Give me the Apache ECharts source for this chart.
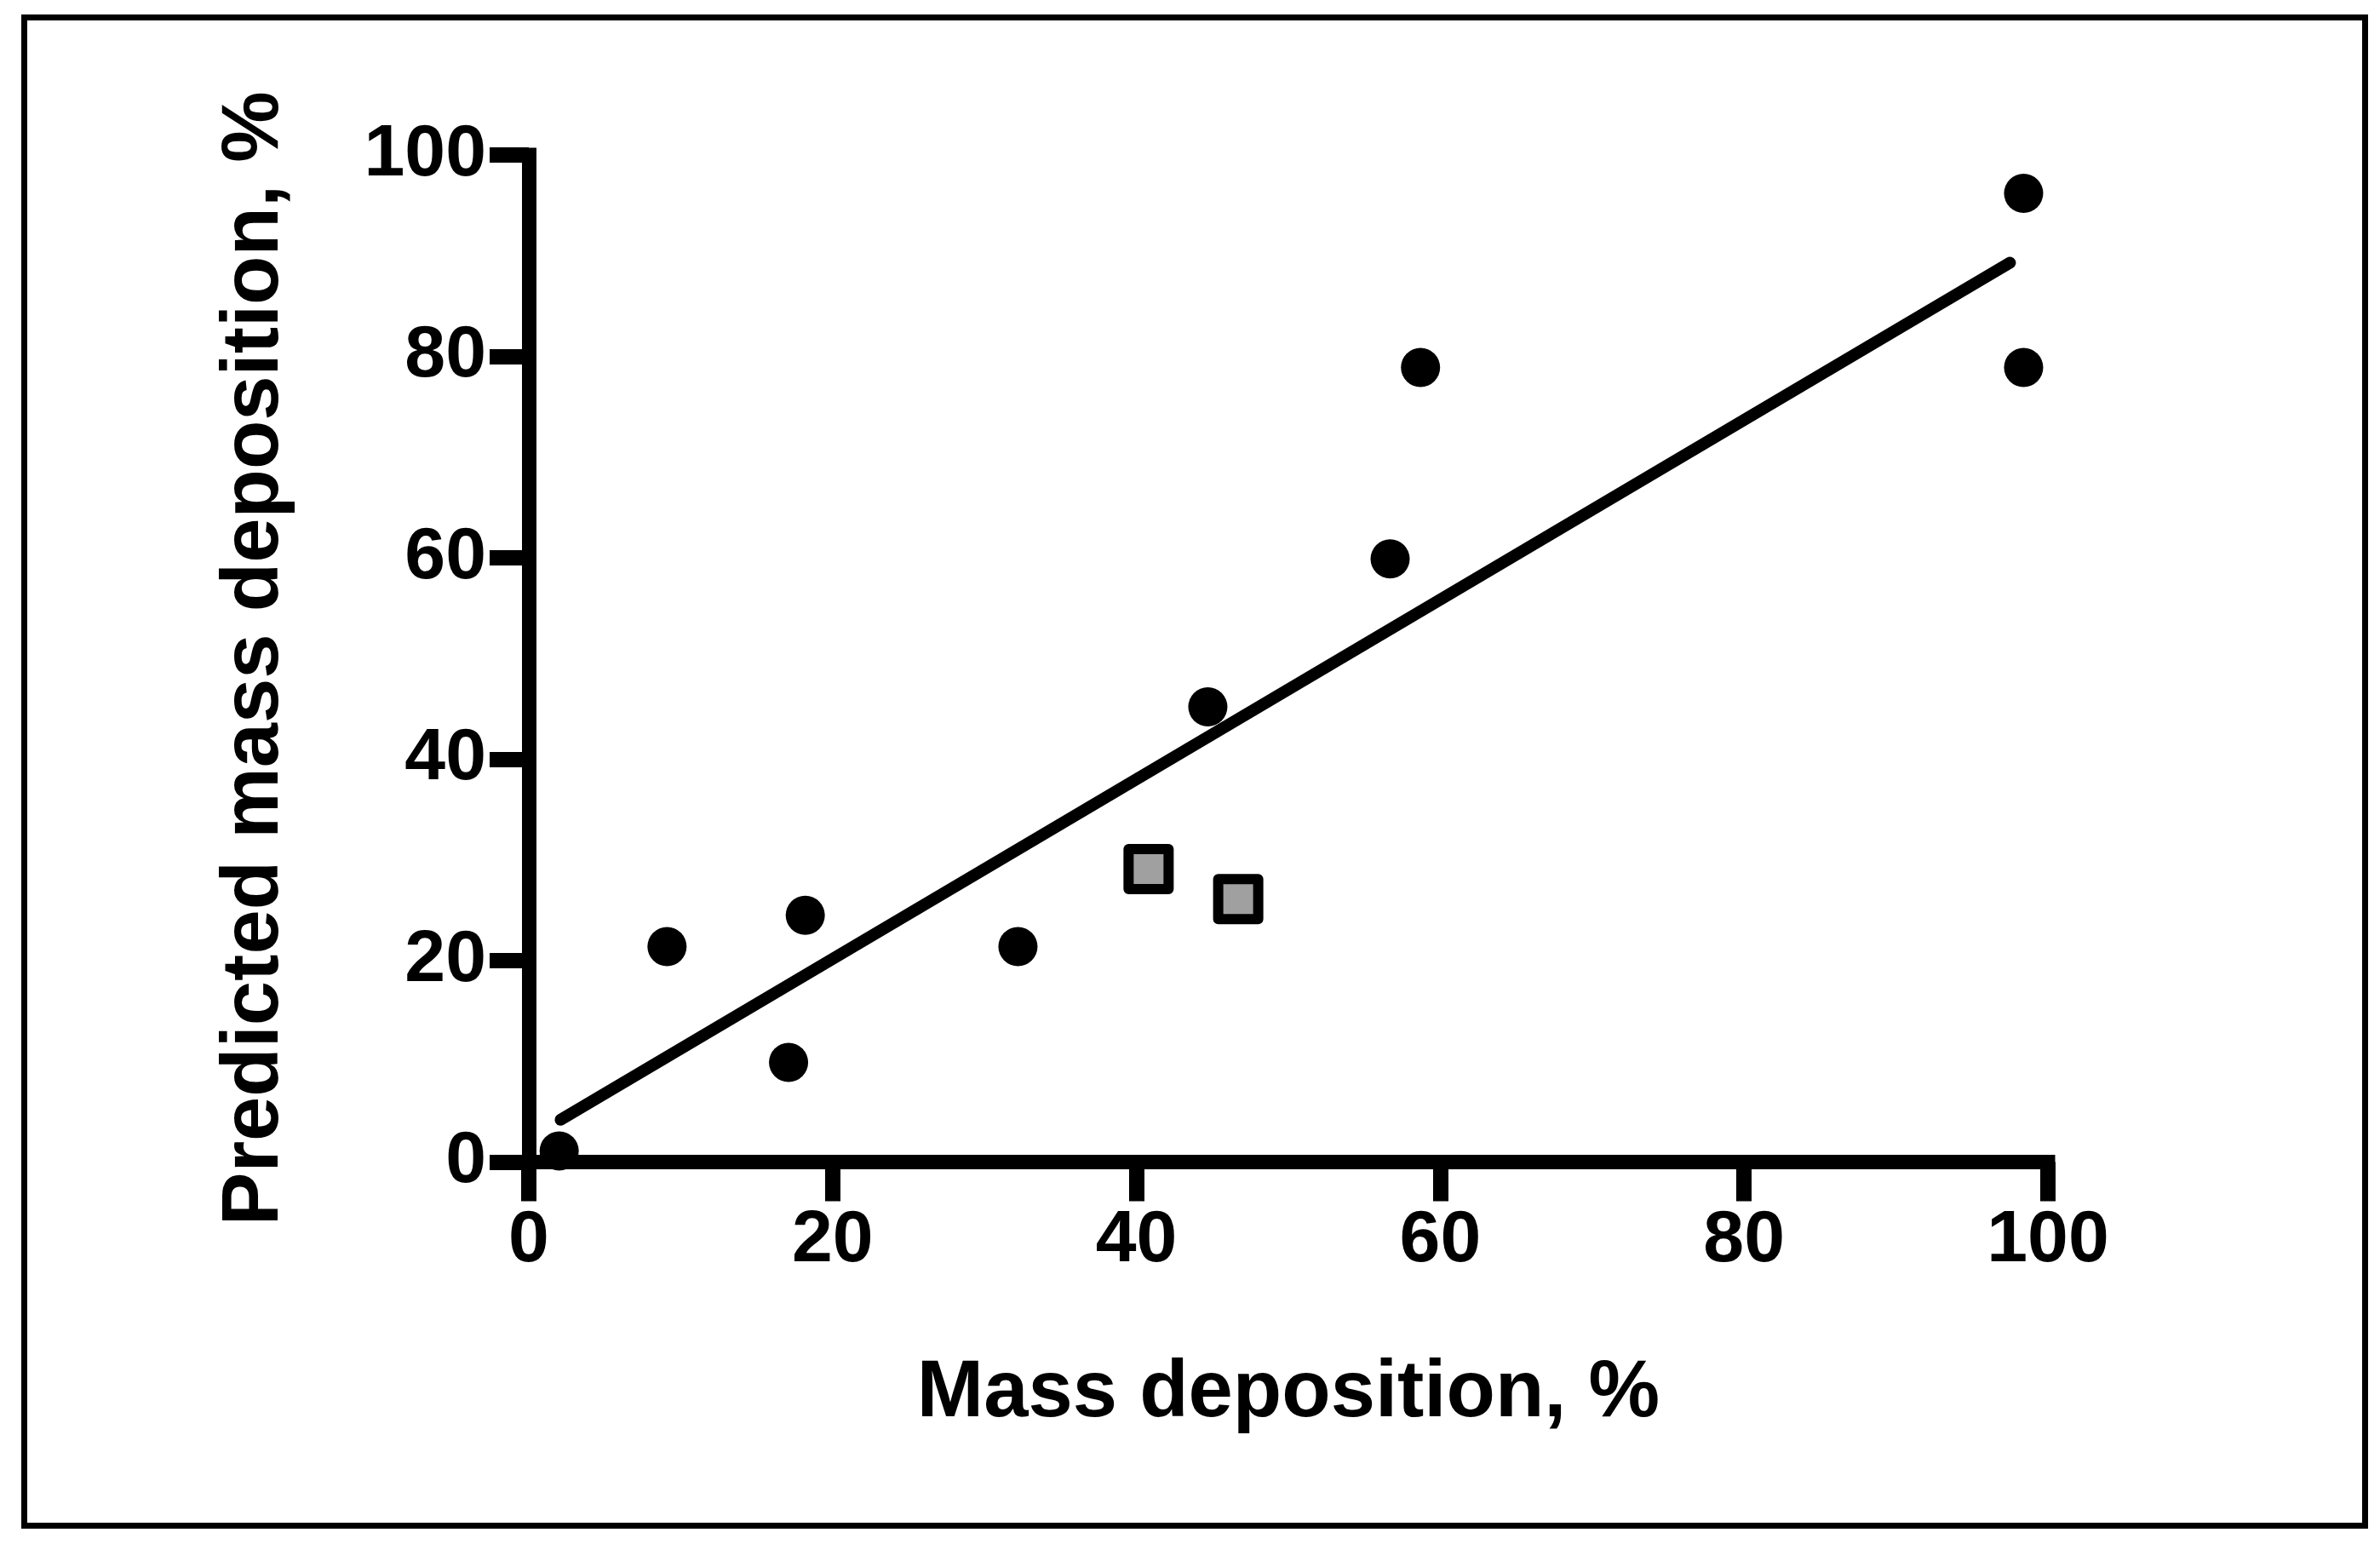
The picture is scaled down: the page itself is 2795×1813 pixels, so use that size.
<!DOCTYPE html>
<html>
<head>
<meta charset="utf-8">
<script src="https://cdn.jsdelivr.net/npm/echarts@6/dist/echarts.min.js"></script>
<style>
html,body{margin:0;padding:0;background:#fff;}
#chart{width:2795px;height:1813px;}
</style>
</head>
<body>
<div id="chart"></div>
<script>
// Measured data (black circles)
var circleX = [2, 9.1, 17.1, 18.2, 32.2, 44.7, 56.7, 58.7, 98.4, 98.4];
var circleY = [1.1, 21.4, 9.9, 24.5, 21.4, 45.2, 59.9, 78.9, 96.2, 78.9];
// Grey squares
var squareX = [40.8, 46.7];
var squareY = [29.1, 26.1];
// Regression line end points
var lineX = [2.1, 97.5];
var lineY = [4.2, 89.3];
// Axis ticks
var xTicks = [0, 20, 40, 60, 80, 100];
var yTicks = [0, 20, 40, 60, 80, 100];
var xTitle = 'Mass deposition, %';
var yTitle = 'Predicted mass deposition, %';

function pairs(xs, ys) { return xs.map(function (x, i) { return [x, ys[i]]; }); }

var FONT = 'Liberation Sans';
var chart = echarts.init(document.getElementById('chart'));
var axisCommon = {
  type: 'value',
  min: 0, max: 100, interval: 20,
  axisLine: { show: true, lineStyle: { color: '#000', width: 17, cap: 'square' } },
  axisTick: { show: true, length: 46, lineStyle: { color: '#000', width: 18 } },
  splitLine: { show: false },
  axisLabel: { color: '#000', fontFamily: FONT, fontWeight: 'bold', fontSize: 86, margin: 50 },
  nameLocation: 'middle',
  nameTextStyle: { color: '#000', fontFamily: FONT, fontWeight: 'bold', fontSize: 94 }
};
chart.setOption({
  backgroundColor: '#fff',
  animation: false,
  graphic: [{
    type: 'rect',
    shape: { x: 28.5, y: 20.5, width: 2749, height: 1771 },
    style: { fill: 'none', stroke: '#000', lineWidth: 7 },
    z: 100
  }],
  grid: { left: 621, right: 390, top: 182, bottom: 448.5, containLabel: false },
  xAxis: Object.assign({}, axisCommon, {
    name: xTitle, nameGap: 226,
    axisLabel: Object.assign({}, axisCommon.axisLabel, {
      formatter: function (v) { return xTicks.indexOf(v) >= 0 ? String(v) : ''; }
    })
  }),
  yAxis: Object.assign({}, axisCommon, {
    name: yTitle, nameGap: 274,
    axisLabel: Object.assign({}, axisCommon.axisLabel, {
      formatter: function (v) { return yTicks.indexOf(v) >= 0 ? String(v) : ''; }
    })
  }),
  series: [
    {
      type: 'line', data: pairs(lineX, lineY), symbol: 'none',
      lineStyle: { color: '#000', width: 14, cap: 'round', opacity: 1 }, z: 2
    },
    {
      type: 'scatter', data: pairs(circleX, circleY), symbol: 'circle', symbolSize: 46,
      itemStyle: { color: '#000', opacity: 1 }, z: 3
    },
    {
      type: 'scatter', data: pairs(squareX, squareY), symbol: 'rect', symbolSize: 47,
      itemStyle: { color: '#a0a0a0', borderColor: '#000', borderWidth: 12, borderJoin: 'round', opacity: 1 }, z: 3
    }
  ]
});
</script>
</body>
</html>
